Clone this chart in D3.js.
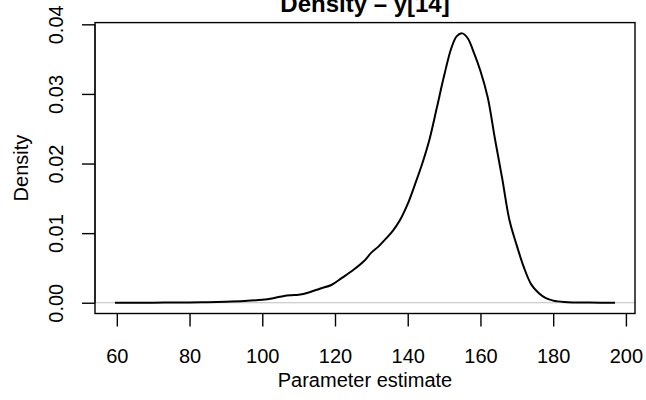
<!DOCTYPE html>
<html>
<head>
<meta charset="utf-8">
<script src="https://cdn.jsdelivr.net/npm/d3@7"></script>
<style>
  body { margin: 0; background: #fff; }
  text { font-family: "Liberation Sans", Arial, sans-serif; }
</style>
</head>
<body>
<div id="target"></div>
<script>
// density estimate
let paramValues = [59.5, 70, 80, 85, 90, 95, 100, 103, 106, 108, 110, 113, 116, 119, 122, 125,
  128, 130, 132, 134, 136, 138, 140, 142, 144, 146, 148, 150, 152, 153.5, 155, 156.5, 158,
  160, 162, 164, 166, 168, 170, 172, 174, 176, 178, 180, 183, 186, 190, 197]
let densityValues = [0.00000, 0.00001, 0.00004, 0.00008, 0.00014, 0.00024, 0.00042, 0.00065,
  0.00098, 0.00108, 0.00113, 0.00150, 0.00205, 0.00255, 0.00360, 0.00470, 0.00600, 0.00720,
  0.00810, 0.00920, 0.01040, 0.01200, 0.01420, 0.01700, 0.02000, 0.02350, 0.02800, 0.03260,
  0.03660, 0.03830, 0.03870, 0.03800, 0.03620, 0.03330, 0.02950, 0.02350, 0.01780, 0.01180,
  0.00820, 0.00500, 0.00260, 0.00140, 0.00065, 0.00030, 0.00010, 0.00004, 0.00002, 0.00001]
let xTicks = [60, 80, 100, 120, 140, 160, 180, 200]
let yTicks = [0, 0.01, 0.02, 0.03, 0.04]

let width = 646,
  height = 400,
  box = { left: 95, right: 635, top: 22.6, bottom: 313.5 },
  fontSize = 20

let data = paramValues.map((p, i) => ({ x: p, y: densityValues[i] }))

let svg = d3.select("#target").append("svg")
  .attr("width", width)
  .attr("height", height)

// R style: data range padded by 4% on each side
let xPad = (d3.max(paramValues) - d3.min(paramValues)) * 0.04
let yPad = d3.max(densityValues) * 0.04
let x = d3.scaleLinear()
  .domain([d3.min(paramValues) - xPad, d3.max(paramValues) + xPad])
  .range([box.left, box.right])
let y = d3.scaleLinear()
  .domain([-yPad, d3.max(densityValues) + yPad])
  .range([box.bottom, box.top])

// zero reference line
svg.append("line")
  .attr("x1", box.left).attr("x2", box.right)
  .attr("y1", y(0)).attr("y2", y(0))
  .attr("stroke", "#bebebe")
  .attr("stroke-width", 1.2)

let line = d3.line()
  .x(d => x(d.x))
  .y(d => y(d.y))
  .curve(d3.curveCatmullRom)

svg.append("path")
  .datum(data)
  .attr("d", line)
  .attr("fill", "none")
  .attr("stroke", "#000")
  .attr("stroke-width", 2)
  .attr("stroke-linejoin", "round")

svg.append("rect")
  .attr("x", box.left).attr("y", box.top)
  .attr("width", box.right - box.left)
  .attr("height", box.bottom - box.top)
  .attr("fill", "none")
  .attr("stroke", "#000")
  .attr("stroke-width", 1.4)

let xAxis = d3.axisBottom(x)
  .tickValues(xTicks)
  .tickSize(13)
  .tickPadding(22)
  .tickSizeOuter(0)

let yAxis = d3.axisLeft(y)
  .tickValues(yTicks)
  .tickFormat(d3.format(".2f"))
  .tickSize(13)
  .tickSizeOuter(0)

let gx = svg.append("g")
  .attr("transform", "translate(0," + box.bottom + ")")
  .call(xAxis)
gx.select(".domain")
  .attr("d", "M" + x(xTicks[0]) + ",0H" + x(xTicks[xTicks.length - 1]))
gx.selectAll("line").attr("stroke-width", 1.4)
gx.selectAll("text")
  .attr("font-size", fontSize)
  .attr("font-family", "Liberation Sans, Arial, sans-serif")
  .attr("fill", "#000")

let gy = svg.append("g")
  .attr("transform", "translate(" + box.left + ",0)")
  .call(yAxis)
gy.select(".domain")
  .attr("d", "M0," + y(yTicks[0]) + "V" + y(yTicks[yTicks.length - 1]))
gy.selectAll("line").attr("stroke-width", 1.4)
gy.selectAll("text")
  .attr("font-size", fontSize)
  .attr("font-family", "Liberation Sans, Arial, sans-serif")
  .attr("fill", "#000")
  .attr("transform", "rotate(-90)")
  .attr("x", 0)
  .attr("y", -32)
  .attr("dy", 0)
  .style("text-anchor", "middle")

svg.append("text")
  .attr("x", (box.left + box.right) / 2)
  .attr("y", 387)
  .attr("text-anchor", "middle")
  .attr("font-size", fontSize)
  .text("Parameter estimate")

svg.append("text")
  .attr("transform", "translate(28," + (box.top + box.bottom) / 2 + ") rotate(-90)")
  .attr("text-anchor", "middle")
  .attr("font-size", fontSize)
  .text("Density")

svg.append("text")
  .attr("x", (box.left + box.right) / 2)
  .attr("y", 12)
  .attr("text-anchor", "middle")
  .attr("font-size", fontSize * 1.2)
  .attr("font-weight", "bold")
  .text("Density – y[14]")
</script>
</body>
</html>
